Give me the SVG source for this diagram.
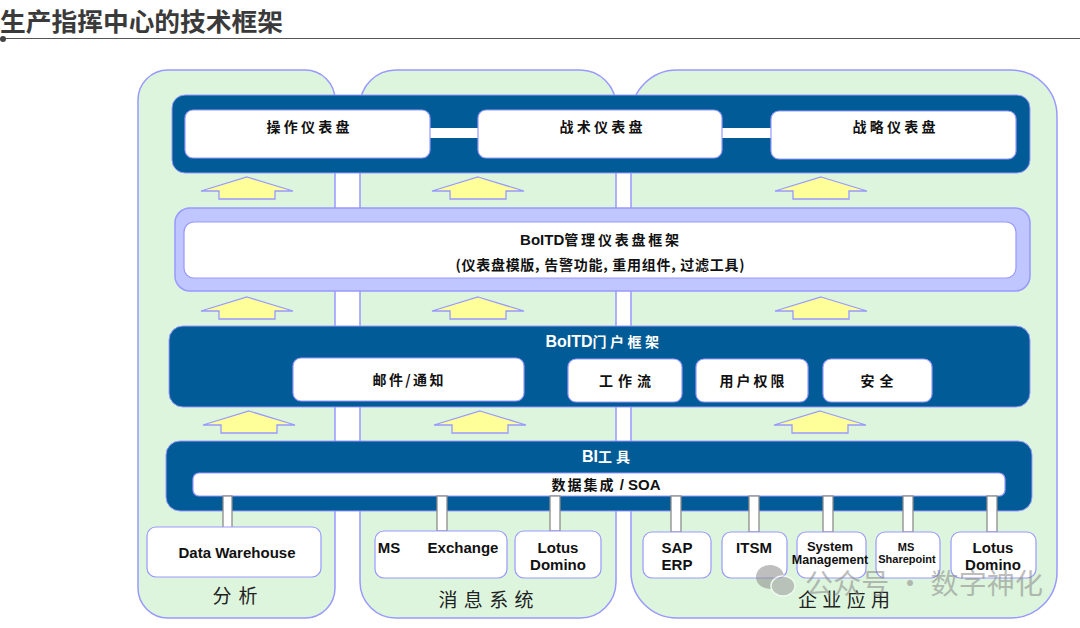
<svg xmlns="http://www.w3.org/2000/svg" xmlns:xlink="http://www.w3.org/1999/xlink" width="1080" height="628" viewBox="0 0 1080 628">
<style>
.col{fill:#DDF5DD;stroke:#9999FF;stroke-width:1.5}
.band{fill:#005B96;stroke:#9999FF;stroke-width:1}
.pband{fill:#C0C6FF;stroke:#9999FF;stroke-width:1.5}
.box{fill:#FFFFFF;stroke:#9999FF;stroke-width:1.2}
.link{fill:#FFFFFF;stroke:none}
.conn{fill:#FFFFFF;stroke:#8C8C8C;stroke-width:1.3}
.cn{font-family:"Noto Sans CJK SC","Noto Sans",sans-serif;font-weight:700;font-size:14px;fill:#111;text-anchor:middle}
.lat{font-family:"Liberation Sans",Arial,"Noto Sans CJK SC",sans-serif;font-weight:700;fill:#111;text-anchor:middle}
.wt{fill:#FFFFFF}
.lbl{font-family:"Noto Sans CJK SC",sans-serif;font-weight:400;font-size:19px;fill:#222;text-anchor:middle}
</style>
<defs>
<polygon id="arr" points="0,0 46,14 28,14 28,22 -28,22 -28,14 -46,14" fill="#FFFF99" stroke="#9999FF" stroke-width="1.3"/>
</defs>
<rect width="1080" height="628" fill="#FFFFFF"/>

<g id="title">
<text x="0" y="31" font-family="'Noto Sans CJK SC',sans-serif" font-weight="700" font-size="25" fill="#3A3A3A" textLength="283" lengthAdjust="spacingAndGlyphs">生产指挥中心的技术框架</text>
<line x1="3" y1="38.5" x2="1080" y2="38.5" stroke="#555" stroke-width="1"/>
<circle cx="3" cy="39" r="3" fill="#444"/>
</g>

<g id="col-analysis"><rect class="col" x="138" y="70" width="197" height="548" rx="30"/></g>
<g id="col-messaging"><rect class="col" x="360" y="70" width="256" height="548" rx="36"/></g>
<g id="col-enterprise"><rect class="col" x="631" y="70" width="426" height="548" rx="46"/></g>

<g id="dashboards">
<rect class="band" x="172" y="95" width="858" height="78" rx="13"/>
<rect class="link" x="428" y="128" width="52" height="10"/>
<rect class="link" x="720" y="128" width="53" height="10"/>
</g>
<g id="ops-dash"><rect class="box" x="185" y="110" width="245" height="48" rx="8"/><text class="cn" x="308" y="132" textLength="83" lengthAdjust="spacing">操作仪表盘</text></g>
<g id="tac-dash"><rect class="box" x="478" y="110" width="244" height="48" rx="8"/><text class="cn" x="601" y="132" textLength="83" lengthAdjust="spacing">战术仪表盘</text></g>
<g id="str-dash"><rect class="box" x="771" y="111" width="245" height="48" rx="8"/><text class="cn" x="894" y="132" textLength="83" lengthAdjust="spacing">战略仪表盘</text></g>

<g id="arrows">
<use xlink:href="#arr" x="247" y="177"/>
<use xlink:href="#arr" x="478" y="177"/>
<use xlink:href="#arr" x="821" y="177"/>
<use xlink:href="#arr" x="247" y="297"/>
<use xlink:href="#arr" x="478" y="297"/>
<use xlink:href="#arr" x="821" y="297"/>
<use xlink:href="#arr" x="249" y="411"/>
<use xlink:href="#arr" x="480" y="411"/>
<use xlink:href="#arr" x="820" y="411"/>
</g>

<g id="mgmt-framework">
<rect class="pband" x="175" y="208" width="855" height="83" rx="15"/>
<rect class="box" x="184" y="222" width="832" height="56" rx="10"/>
<text class="cn" x="601" y="245"><tspan class="lat" font-size="15">BoITD</tspan><tspan letter-spacing="2.8">管理仪表盘框架</tspan></text>
<text class="cn" x="600" y="270" font-size="13" textLength="289" lengthAdjust="spacing">(仪表盘模版, 告警功能, 重用组件, 过滤工具)</text>
</g>

<g id="portal">
<rect class="band" x="169" y="326" width="861" height="81" rx="14"/>
<text class="cn wt" x="604" y="347" font-size="15"><tspan class="lat wt" font-size="16">BoITD</tspan><tspan class="wt" letter-spacing="3.5">门户框架</tspan></text>
</g>
<g id="mail"><rect class="box" x="293" y="358" width="231" height="43" rx="8"/><text class="cn" x="408" y="385" textLength="71" lengthAdjust="spacing">邮件/通知</text></g>
<g id="workflow"><rect class="box" x="568" y="359" width="114" height="43" rx="8"/><text class="cn" x="625" y="386" textLength="52" lengthAdjust="spacing">工作流</text></g>
<g id="permission"><rect class="box" x="696" y="359" width="112" height="43" rx="8"/><text class="cn" x="752" y="386" textLength="65" lengthAdjust="spacing">用户权限</text></g>
<g id="security"><rect class="box" x="823" y="359" width="109" height="43" rx="8"/><text class="cn" x="877" y="386" textLength="33" lengthAdjust="spacing">安全</text></g>

<g id="bi-tools">
<rect class="band" x="166" y="441" width="866" height="70" rx="14"/>
<text class="cn wt" x="608" y="462" font-size="15"><tspan class="lat wt" font-size="16">BI</tspan><tspan class="wt" letter-spacing="4">工具</tspan></text>
<rect class="box" x="193" y="473" width="812" height="23" rx="6"/>
<text class="cn" x="606" y="490" font-size="13"><tspan letter-spacing="2">数据集成</tspan><tspan class="lat" font-size="15"> / SOA</tspan></text>
</g>

<g id="connectors">
<rect class="conn" x="223" y="496" width="9" height="32"/>
<rect class="conn" x="437" y="496" width="10" height="35"/>
<rect class="conn" x="550" y="496" width="10" height="35"/>
<rect class="conn" x="671" y="496" width="10" height="36"/>
<rect class="conn" x="749" y="496" width="10" height="36"/>
<rect class="conn" x="823" y="496" width="10" height="36"/>
<rect class="conn" x="903" y="496" width="10" height="36"/>
<rect class="conn" x="987" y="496" width="10" height="36"/>
</g>

<g id="data-warehouse"><rect class="box" x="147" y="527" width="174" height="50" rx="9"/><text class="lat" x="237" y="558" font-size="15">Data Warehouse</text></g>
<g id="ms-exchange"><rect class="box" x="375" y="531" width="132" height="47" rx="9"/><text class="lat" x="389" y="553" font-size="15">MS</text><text class="lat" x="463" y="553" font-size="15">Exchange</text></g>
<g id="lotus-domino-1"><rect class="box" x="515" y="531" width="86" height="47" rx="9"/><text class="lat" x="558" y="553" font-size="15">Lotus</text><text class="lat" x="558" y="570" font-size="15">Domino</text></g>
<g id="sap-erp"><rect class="box" x="643" y="532" width="68" height="46" rx="9"/><text class="lat" x="677" y="553" font-size="15">SAP</text><text class="lat" x="677" y="570" font-size="15">ERP</text></g>
<g id="itsm"><rect class="box" x="722" y="532" width="65" height="46" rx="9"/><text class="lat" x="754" y="553" font-size="15">ITSM</text></g>
<g id="system-management"><rect class="box" x="797" y="532" width="69" height="46" rx="9"/><text class="lat" x="830" y="551" font-size="13">System</text><text class="lat" x="830" y="564" font-size="12.5">Management</text></g>
<g id="ms-sharepoint"><rect class="box" x="876" y="532" width="64" height="46" rx="9"/><text class="lat" x="906" y="551" font-size="11">MS</text><text class="lat" x="907" y="563" font-size="11">Sharepoint</text></g>
<g id="lotus-domino-2"><rect class="box" x="951" y="532" width="85" height="46" rx="9"/><text class="lat" x="993" y="553" font-size="15">Lotus</text><text class="lat" x="993" y="570" font-size="15">Domino</text></g>

<g id="labels">
<text class="lbl" x="235" y="603" textLength="45" lengthAdjust="spacing">分析</text>
<text class="lbl" x="486" y="607" textLength="95" lengthAdjust="spacing">消息系统</text>
<text class="lbl" x="844" y="607" textLength="92" lengthAdjust="spacing">企业应用</text>
</g>

<g id="watermark" opacity="0.55">
<ellipse cx="770" cy="577" rx="14" ry="12" fill="#8A8A8A"/>
<ellipse cx="783" cy="586" rx="12" ry="10" fill="#9A9A9A" stroke="#FFFFFF" stroke-width="1.5"/>
<text x="805" y="594" font-family="'Noto Sans CJK SC',sans-serif" font-size="28" fill="#888" textLength="238" lengthAdjust="spacing">公众号 · 数字神化</text>
</g>
</svg>
